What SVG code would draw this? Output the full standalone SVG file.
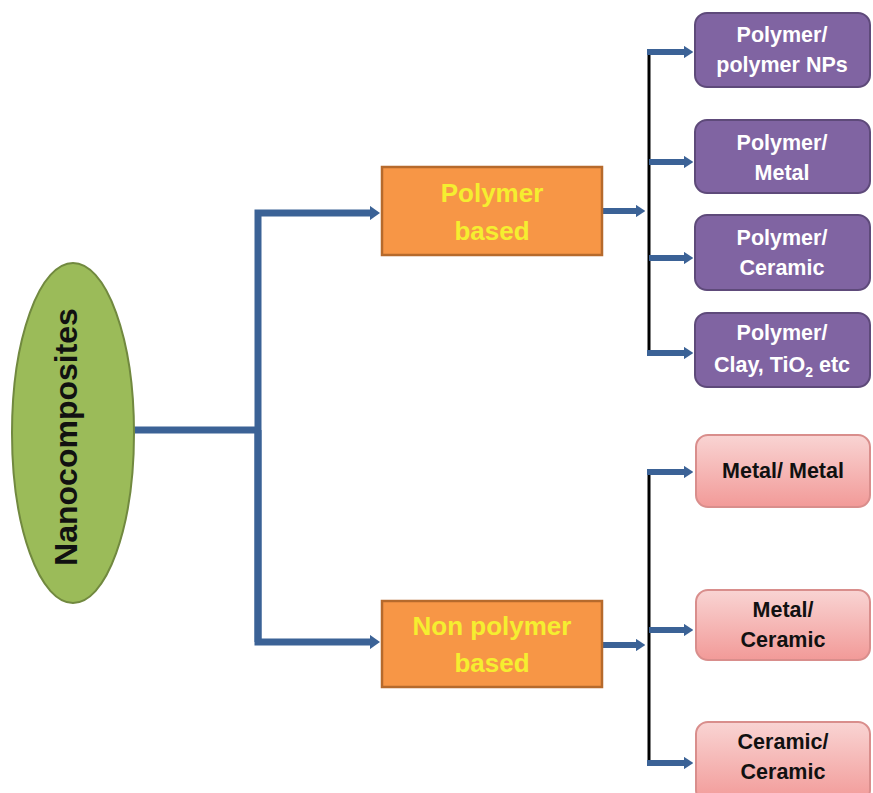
<svg xmlns="http://www.w3.org/2000/svg" width="873" height="793" viewBox="0 0 873 793">
<defs>
<linearGradient id="pink" x1="0" y1="0" x2="0" y2="1">
<stop offset="0" stop-color="#F9D4D3"/>
<stop offset="1" stop-color="#F29A98"/>
</linearGradient>
<marker id="ah" markerWidth="1.5" markerHeight="2.1" refX="0.2" refY="1.05" orient="auto" markerUnits="strokeWidth">
<path d="M0,0 L1.5,1.05 L0,2.1 Z" fill="#3B6296"/>
</marker>
<marker id="ahs" markerWidth="1.6" markerHeight="2.1" refX="0.2" refY="1.05" orient="auto" markerUnits="strokeWidth">
<path d="M0,0 L1.6,1.05 L0,2.1 Z" fill="#3B6296"/>
</marker>
</defs>
<style>
.blue{fill:none;stroke:#3B6296;stroke-width:7}
.bsm{fill:none;stroke:#3B6296;stroke-width:6}
.blk{fill:none;stroke:#000;stroke-width:3}
.org{fill:#F79646;stroke:#B66A2C;stroke-width:2.5}
.pur{fill:#8064A2;stroke:#5E4A7A;stroke-width:2}
.pnk{fill:url(#pink);stroke:#D98E8C;stroke-width:2}
.t{font-family:"Liberation Sans",Arial,sans-serif;font-weight:bold;text-anchor:middle}
.ty{fill:#F5EE30;font-size:26px}
.tw{fill:#fff;font-size:21.5px}
.tb{fill:#111;font-size:21.5px}
</style>
<g id="connectors">
<path class="blue" d="M133,430 H258"/>
<path class="blue" d="M258,642 V213 H371" marker-end="url(#ah)"/>
<path class="blue" d="M258,430 V642 H371" marker-end="url(#ah)"/>
<path class="bsm" d="M602,211 H637" marker-end="url(#ahs)"/>
<path class="bsm" d="M602,645 H637" marker-end="url(#ahs)"/>
<path class="blk" d="M649,52 V355"/>
<path class="blk" d="M649,472 V764"/>
<path class="bsm" d="M647,52 H685" marker-end="url(#ahs)"/>
<path class="bsm" d="M649,162 H685" marker-end="url(#ahs)"/>
<path class="bsm" d="M649,258 H685" marker-end="url(#ahs)"/>
<path class="bsm" d="M647,353 H685" marker-end="url(#ahs)"/>
<path class="bsm" d="M647,472 H685" marker-end="url(#ahs)"/>
<path class="bsm" d="M649,630 H685" marker-end="url(#ahs)"/>
<path class="bsm" d="M647,763 H685" marker-end="url(#ahs)"/>
</g>
<g id="nanocomposites">
<ellipse cx="73" cy="433" rx="61" ry="170" fill="#9BBB59" stroke="#71893F" stroke-width="2"/>
<text class="t" x="0" y="0" font-size="32" fill="#111" transform="translate(77,437) rotate(-90)">Nanocomposites</text>
</g>
<g id="polymer-based">
<rect class="org" x="382" y="167" width="220" height="88"/>
<text class="t ty" x="492" y="202">Polymer</text>
<text class="t ty" x="492" y="240">based</text>
</g>
<g id="non-polymer-based">
<rect class="org" x="382" y="601" width="220" height="86"/>
<text class="t ty" x="492" y="635">Non polymer</text>
<text class="t ty" x="492" y="672">based</text>
</g>
<g id="polymer-polymer">
<rect class="pur" x="695" y="13" width="175" height="74" rx="12"/>
<text class="t tw" x="782" y="42">Polymer/</text>
<text class="t tw" x="782" y="72">polymer NPs</text>
</g>
<g id="polymer-metal">
<rect class="pur" x="695" y="120" width="175" height="73" rx="12"/>
<text class="t tw" x="782" y="150">Polymer/</text>
<text class="t tw" x="782" y="180">Metal</text>
</g>
<g id="polymer-ceramic">
<rect class="pur" x="695" y="215" width="175" height="75" rx="12"/>
<text class="t tw" x="782" y="245">Polymer/</text>
<text class="t tw" x="782" y="275">Ceramic</text>
</g>
<g id="polymer-clay">
<rect class="pur" x="695" y="313" width="175" height="74" rx="12"/>
<text class="t tw" x="782" y="340">Polymer/</text>
<text class="t tw" x="782" y="372">Clay, TiO<tspan font-size="14" dy="5">2</tspan><tspan dy="-5"> etc</tspan></text>
</g>
<g id="metal-metal">
<rect class="pnk" x="696" y="435" width="174" height="72" rx="12"/>
<text class="t tb" x="783" y="478">Metal/ Metal</text>
</g>
<g id="metal-ceramic">
<rect class="pnk" x="696" y="590" width="174" height="70" rx="12"/>
<text class="t tb" x="783" y="617">Metal/</text>
<text class="t tb" x="783" y="647">Ceramic</text>
</g>
<g id="ceramic-ceramic">
<rect class="pnk" x="696" y="722" width="174" height="80" rx="12"/>
<text class="t tb" x="783" y="749">Ceramic/</text>
<text class="t tb" x="783" y="779">Ceramic</text>
</g>
</svg>
